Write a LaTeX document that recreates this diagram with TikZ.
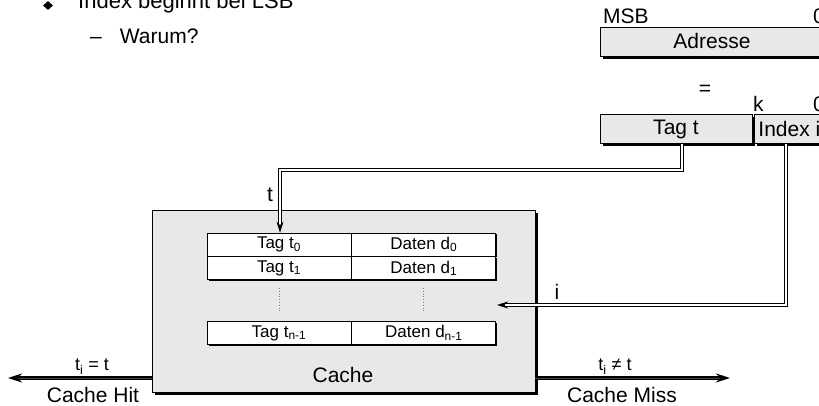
\documentclass[tikz,border=0pt]{standalone}
\usepackage{fontspec}
\setmainfont{Liberation Sans}
\usetikzlibrary{arrows.meta,positioning,shadows,shapes.geometric}
\definecolor{cachegray}{gray}{0.91}
\newcommand{\lblsize}{\fontsize{21}{25}\selectfont}
\newcommand{\cellsize}{\fontsize{17}{19}\selectfont}
\newcommand{\condsize}{\fontsize{18}{21}\selectfont}
\tikzset{
  regbox/.style={draw, line width=0.9pt, fill=cachegray, minimum height=29pt, inner sep=0pt,
    drop shadow={shadow xshift=3pt, shadow yshift=-3pt, fill=black, opacity=1}},
  cell/.style={draw, line width=0.8pt, fill=white, minimum width=144pt, minimum height=23pt,
    inner sep=0pt, font=\cellsize, drop shadow={shadow xshift=1.5pt, shadow yshift=-1.5pt, fill=black, opacity=1}},
  bus/.style={double, line width=1pt, double distance=1.6pt, -{Stealth[length=11pt,width=7pt]}},
  result/.style={line width=1.5pt, double=darkgray, double distance=0.8pt, -{Stealth[length=14pt,width=9pt]}}
}
\begin{document}
\begin{tikzpicture}[x=1pt,y=1pt,font=\lblsize]
\useasboundingbox (0,0) rectangle (819,406);
\node[diamond, fill=black, minimum width=10pt, minimum height=9pt, inner sep=0pt] (bullet) at (48,400.5) {};
\node[anchor=base west, inner sep=0pt, font=\fontsize{22}{26}\selectfont] (point) at (78,397) {Index beginnt bei LSB};
\node[anchor=base west, inner sep=0pt, font=\fontsize{21}{25}\selectfont] (question) at (90,362) {–\hspace{18pt}Warum?};
% address split
\node[regbox, minimum width=224pt] (adr) at (712,364.5) {Adresse};
\node[anchor=base west, inner sep=0pt] (msb) at (603,382) {MSB};
\node[anchor=base west, inner sep=0pt] (adr0) at (813,382) {0};
\node (eq) at (705,316) {=};
\node[regbox, minimum width=152pt] (tag) at (676,277) {Tag t};
\node[regbox, minimum width=70pt, right=1.5pt of tag] (idx) {Index i};
\node[anchor=base west, inner sep=0pt] (kbit) at (753,294) {k};
\node[anchor=base west, inner sep=0pt] (idx0) at (813,294) {0};
% cache
\node[regbox, minimum width=383pt, minimum height=182pt] (cache) at (343.5,105) {};
\node (cachelbl) at (343,31.5) {Cache};
\node[cell] (tag0) at (279,161.5) {Tag t\textsubscript{0}};
\node[cell, right=0pt of tag0] (dat0) {Daten d\textsubscript{0}};
\node[cell, below=0pt of tag0] (tag1) {Tag t\textsubscript{1}};
\node[cell, right=0pt of tag1] (dat1) {Daten d\textsubscript{1}};
\node[cell] (tagn) at (279,73) {Tag t\textsubscript{n-1}};
\node[cell, right=0pt of tagn] (datn) {Daten d\textsubscript{n-1}};
\draw[gray, dotted, line width=0.8pt] (279,118) -- (279,94);
\draw[gray, dotted, line width=0.8pt] (423,118) -- (423,94);
% buses
\coordinate (tbend) at (280,236);
\coordinate (ibend) at (786,101);
\coordinate (iin) at (497,101);
\draw[bus] ([xshift=6pt]tag.south) |- (tbend) -- (tbend |- tag0.north);
\draw[bus] (ibend |- idx.south) -- (ibend) -- (iin);
\node (tlbl) at (270,211) {t};
\node (ilbl) at (557,114) {i};
% hit / miss
\coordinate (hitend) at (8,28);
\coordinate (missend) at (730,28);
\draw[result] (cache.west |- hitend) -- (hitend);
\draw[result] (cache.east |- missend) -- (missend);
\node[anchor=base, font=\condsize] (hitcond) at (92,35) {t\textsubscript{i} = t};
\node[anchor=base] (hitlbl) at (93,3) {Cache Hit};
\node[anchor=base, font=\condsize] (misscond) at (615,35) {t\textsubscript{i} ≠ t};
\node[anchor=base] (misslbl) at (622,3) {Cache Miss};
\end{tikzpicture}
\end{document}
